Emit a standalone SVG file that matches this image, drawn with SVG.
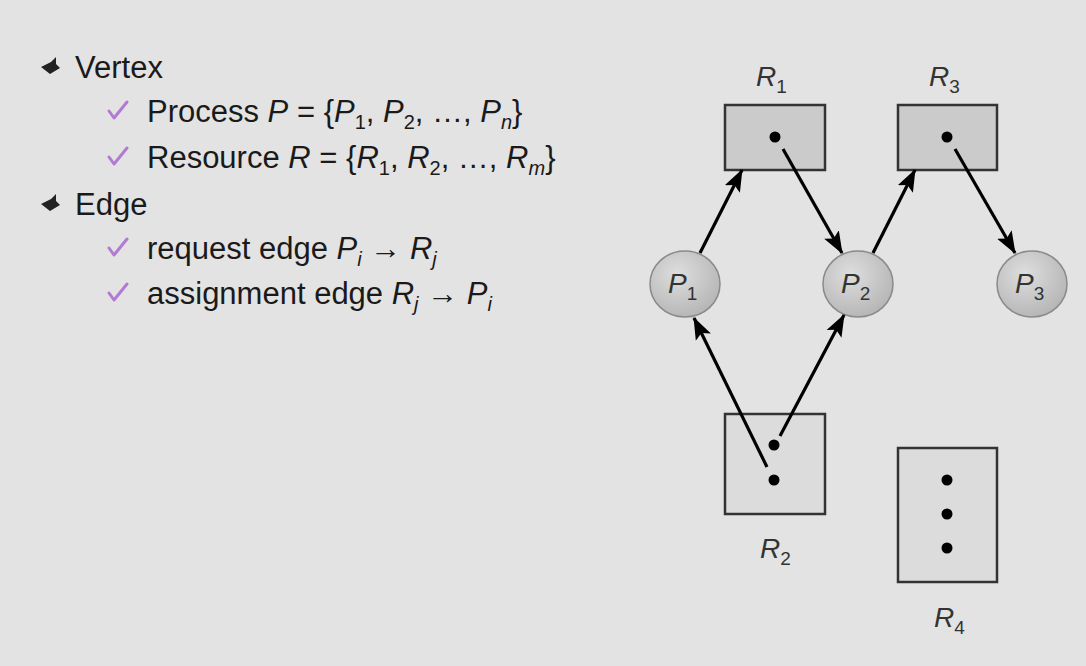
<svg xmlns="http://www.w3.org/2000/svg" width="1086" height="666" viewBox="0 0 1086 666">
<defs>
<radialGradient id="pg" cx="0.4" cy="0.35" r="0.7">
<stop offset="0" stop-color="#dedede"/>
<stop offset="1" stop-color="#b4b4b4"/>
</radialGradient>
<marker id="ah" viewBox="0 0 20 16" refX="19" refY="8" markerWidth="7" markerHeight="5.6" orient="auto">
<path d="M0,0.5 L20,8 L0,15.5 L4,8 z" fill="#000"/>
</marker>
<path id="bul" d="M0,8 L10,3 L15,-2 L15,5 L19,9 L9,15 z"/>
<path id="chk" d="M0,9 L5,16 L18,0"/>
</defs>
<style>
.t{font-family:"Liberation Sans",Arial,sans-serif;fill:#1a1a1a}
.m{font-size:31px}
.i{font-style:italic}
.s{font-size:20px}
.lbl{font-family:"Liberation Sans",Arial,sans-serif;font-style:italic;font-size:28px;fill:#333}
.ls{font-style:normal;font-size:19px}
.chk{fill:none;stroke:#b27ad2;stroke-width:3;stroke-linecap:round;stroke-linejoin:round}
.bul{fill:#222}
.box{stroke:#333;stroke-width:2.5}
.dot{fill:#000}
.proc{fill:url(#pg);stroke:#8a8a8a;stroke-width:1.5}
.e{stroke:#000;stroke-width:3.2;fill:none;marker-end:url(#ah)}
</style>
<rect width="1086" height="666" fill="#e3e3e3"/>
<g id="text">
<use href="#bul" class="bul" x="41" y="59"/>
<text class="t" x="75" y="78" font-size="31">Vertex</text>
<use href="#chk" class="chk" x="109" y="102"/>
<text class="t m" x="147" y="122">Process <tspan class="i">P</tspan> = {<tspan class="i">P</tspan><tspan class="s" dy="7">1</tspan><tspan dy="-7">, </tspan><tspan class="i">P</tspan><tspan class="s" dy="7">2</tspan><tspan dy="-7">, …, </tspan><tspan class="i">P</tspan><tspan class="i s" dy="7">n</tspan><tspan dy="-7">}</tspan></text>
<use href="#chk" class="chk" x="109" y="148"/>
<text class="t m" x="147" y="168">Resource <tspan class="i">R</tspan> = {<tspan class="i">R</tspan><tspan class="s" dy="7">1</tspan><tspan dy="-7">, </tspan><tspan class="i">R</tspan><tspan class="s" dy="7">2</tspan><tspan dy="-7">, …, </tspan><tspan class="i">R</tspan><tspan class="i s" dy="7">m</tspan><tspan dy="-7">}</tspan></text>
<use href="#bul" class="bul" x="41" y="196"/>
<text class="t" x="75" y="215" font-size="31">Edge</text>
<use href="#chk" class="chk" x="109" y="239"/>
<text class="t m" x="147" y="259">request edge <tspan class="i">P</tspan><tspan class="i s" dy="7">i</tspan><tspan dy="-7"> → </tspan><tspan class="i">R</tspan><tspan class="i s" dy="7">j</tspan></text>
<use href="#chk" class="chk" x="109" y="284"/>
<text class="t m" x="147" y="304">assignment edge <tspan class="i">R</tspan><tspan class="i s" dy="7">j</tspan><tspan dy="-7"> → </tspan><tspan class="i">P</tspan><tspan class="i s" dy="7">i</tspan></text>
</g>
<g id="R1">
<rect class="box" x="725" y="105" width="100" height="65" fill="#cbcbcb"/>
<circle class="dot" cx="775" cy="137" r="5.5"/>
<text class="lbl" x="756" y="86">R<tspan class="ls" dy="7">1</tspan></text>
</g>
<g id="R3">
<rect class="box" x="898" y="105" width="99" height="65" fill="#cbcbcb"/>
<circle class="dot" cx="947" cy="137" r="5.5"/>
<text class="lbl" x="929" y="86">R<tspan class="ls" dy="7">3</tspan></text>
</g>
<g id="R2">
<rect class="box" x="725" y="414" width="100" height="100" fill="#dcdcdc"/>
<circle class="dot" cx="774" cy="445" r="5.5"/>
<circle class="dot" cx="774" cy="480" r="5.5"/>
<text class="lbl" x="760" y="558">R<tspan class="ls" dy="7">2</tspan></text>
</g>
<g id="R4">
<rect class="box" x="898" y="448" width="99" height="134" fill="#dcdcdc"/>
<circle class="dot" cx="947" cy="480" r="5.5"/>
<circle class="dot" cx="947" cy="514" r="5.5"/>
<circle class="dot" cx="947" cy="548" r="5.5"/>
<text class="lbl" x="934" y="627">R<tspan class="ls" dy="7">4</tspan></text>
</g>
<g id="P1">
<ellipse class="proc" cx="685" cy="284" rx="35" ry="33"/>
<text class="lbl" x="668" y="293" fill="#222">P<tspan class="ls" dy="7">1</tspan></text>
</g>
<g id="P2">
<ellipse class="proc" cx="858" cy="284" rx="35" ry="33"/>
<text class="lbl" x="841" y="293" fill="#222">P<tspan class="ls" dy="7">2</tspan></text>
</g>
<g id="P3">
<ellipse class="proc" cx="1032" cy="284" rx="35" ry="33"/>
<text class="lbl" x="1015" y="293" fill="#222">P<tspan class="ls" dy="7">3</tspan></text>
</g>
<g id="edges">
<line class="e" x1="700" y1="253" x2="742" y2="170"/>
<line class="e" x1="783" y1="149" x2="842" y2="253"/>
<line class="e" x1="873" y1="253" x2="915" y2="170"/>
<line class="e" x1="955" y1="149" x2="1015" y2="253"/>
<line class="e" x1="767" y1="467" x2="694" y2="318"/>
<line class="e" x1="780" y1="436" x2="844" y2="315"/>
</g>
</svg>
